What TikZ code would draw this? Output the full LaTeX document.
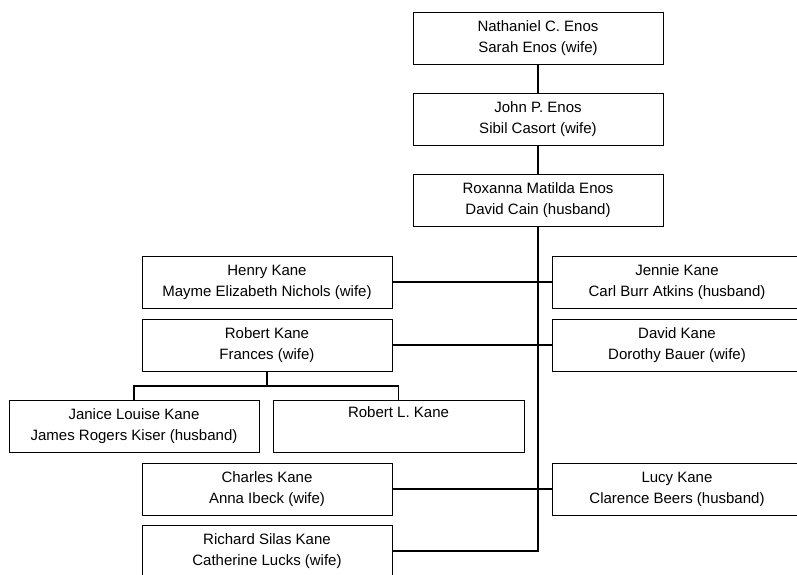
\documentclass[tikz,border=0pt]{standalone}
\usepackage{fontspec}
\setmainfont{Liberation Sans}

\begin{document}
\begin{tikzpicture}[x=1pt, y=-1pt,
    person/.style={draw, line width=1pt, rectangle, minimum width=250pt, minimum height=52pt,
        inner sep=0pt, align=center, font=\fontsize{15}{21}\selectfont},
    link/.style={line width=1.2pt}]
            \useasboundingbox (0,0) rectangle (797,574);
            \fill[white] (0,0) rectangle (797,574);
            \clip (0,0) rectangle (797,574);

            \node[person] (nathaniel) at (538,38) {Nathaniel C. Enos\\Sarah Enos (wife)};
            \node[person] (john) at (538,119.5) {John P. Enos\\Sibil Casort (wife)};
            \node[person] (roxanna) at (538,200.5) {Roxanna Matilda Enos\\David Cain (husband)};

            \node[person] (henry) at (267,282) {Henry Kane\\Mayme Elizabeth Nichols (wife)};
            \node[person] (robert) at (267,345) {Robert Kane\\Frances (wife)};
            \node[person] (janice) at (134,426) {Janice Louise Kane\\James Rogers Kiser (husband)};
            \node[person, minimum width=251pt] (robertl) at (398.5,426) {Robert L. Kane\\\strut};
            \node[person] (charles) at (267,489) {Charles Kane\\Anna Ibeck (wife)};
            \node[person] (richard) at (267,551) {Richard Silas Kane\\Catherine Lucks (wife)};

            \node[person] (jennie) at (677,282) {Jennie Kane\\Carl Burr Atkins (husband)};
            \node[person] (david) at (677,345) {David Kane\\Dorothy Bauer (wife)};
            \node[person] (lucy) at (677,489) {Lucy Kane\\Clarence Beers (husband)};

            \draw[link] (nathaniel) -- (john);
            \draw[link] (john) -- (roxanna);
            \draw[link] (roxanna.south) -- (roxanna.south |- richard.east) -- (richard.east);

            \draw[link] (henry) -- (jennie);
            \draw[link] (robert) -- (david);
            \draw[link] (charles) -- (lucy);

            \coordinate (fork) at (267,386);
            \draw[link] (robert.south) -- (fork);
            \draw[link] (janice.north) |- (fork) -| (robertl.north);
        \end{tikzpicture}
\end{document}
